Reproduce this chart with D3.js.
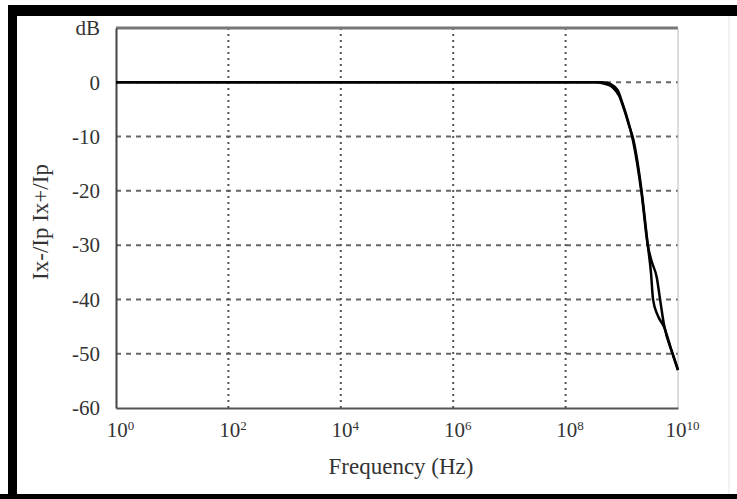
<!DOCTYPE html>
<html>
<head>
<meta charset="utf-8">
<script src="https://cdn.jsdelivr.net/npm/d3@7"></script>
<style>
body { margin: 0; background: #fff; }
svg { display: block; }
</style>
</head>
<body>
<script>
var width = 737, height = 499;
var serif = '"Liberation Serif", "DejaVu Serif", "Times New Roman", serif';

// frequency ticks (exponents of ten) and dB ticks
var xTickExps = [0, 2, 4, 6, 8, 10];
var yTicks = [0, -10, -20, -30, -40, -50, -60];
var yTopLabel = 'dB';

// Ix-/Ip response (Hz, dB)
var freqMinus = [1, 1e8, 3.5e8, 5e8, 7e8, 9e8, 1.1e9, 1.35e9, 1.6e9, 2.25e9, 2.9e9, 3.3e9, 3.6e9, 4.3e9, 5.6e9, 8e9, 1e10];
var dbMinus   = [0, 0, 0, -0.3, -1, -2.5, -5, -8, -10.5, -20, -30, -35, -40, -42.8, -45, -50, -53];

// Ix+/Ip response
var freqPlus = [1, 1e8, 4.5e8, 6.5e8, 8.5e8, 1e9, 1.2e9, 1.6e9, 2.25e9, 2.9e9, 3.4e9, 4.2e9, 4.8e9, 5.6e9, 8e9, 1e10];
var dbPlus   = [0, 0, 0, -0.4, -1.5, -3.5, -6, -11, -20.5, -30, -33, -36, -40, -44.5, -50, -53];

var margin = {left: 116, right: 678, top: 28, bottom: 408};

var svg = d3.select('body').append('svg')
    .attr('width', width)
    .attr('height', height)
    .attr('font-family', serif);

// picture frame
svg.append('rect').attr('x', 8).attr('y', 5).attr('width', width - 8).attr('height', 11).attr('fill', '#000');
svg.append('rect').attr('x', 8).attr('y', 5).attr('width', 9).attr('height', height - 5).attr('fill', '#000');
svg.append('rect').attr('x', 0).attr('y', 494).attr('width', width).attr('height', 5).attr('fill', '#000');
svg.append('line').attr('x1', 729).attr('x2', 729).attr('y1', 16).attr('y2', 494)
    .attr('stroke', '#e6e6e6').attr('stroke-width', 1);

var x = d3.scaleLog()
    .domain([1, 1e10])
    .range([margin.left, margin.right]);
var y = d3.scaleLinear()
    .domain([-60, 10])
    .range([margin.bottom, margin.top]);

// grid
var grid = svg.append('g');
grid.selectAll('line.h')
    .data(yTicks.filter(function(d){ return d > -60; }))
    .enter().append('line')
    .attr('class', 'h')
    .attr('x1', margin.left).attr('x2', margin.right)
    .attr('y1', function(d){ return y(d); })
    .attr('y2', function(d){ return y(d); })
    .attr('stroke', '#666')
    .attr('stroke-width', 2)
    .attr('stroke-dasharray', '5,5');
grid.selectAll('line.v')
    .data(xTickExps.filter(function(d){ return d > 0 && d < 10; }))
    .enter().append('line')
    .attr('class', 'v')
    .attr('x1', function(d){ return x(Math.pow(10, d)); })
    .attr('x2', function(d){ return x(Math.pow(10, d)); })
    .attr('y1', margin.top).attr('y2', margin.bottom)
    .attr('stroke', '#555')
    .attr('stroke-width', 2)
    .attr('stroke-dasharray', '2,4');

// plot box
svg.append('line').attr('x1', margin.left).attr('x2', margin.right).attr('y1', margin.top).attr('y2', margin.top)
    .attr('stroke', '#777').attr('stroke-width', 3);
svg.append('line').attr('x1', margin.right).attr('x2', margin.right).attr('y1', margin.top).attr('y2', margin.bottom)
    .attr('stroke', '#bbb').attr('stroke-width', 1);

// axes
var xAxis = d3.axisBottom(x)
    .tickValues(xTickExps.map(function(d){ return Math.pow(10, d); }))
    .tickSize(0)
    .tickPadding(14)
    .tickFormat('');
var gx = svg.append('g')
    .attr('transform', 'translate(0,' + margin.bottom + ')')
    .call(xAxis);
gx.attr('font-family', serif);
gx.select('.domain').attr('stroke', '#555').attr('stroke-width', 2);
gx.selectAll('.tick text')
    .attr('font-size', '21px')
    .attr('fill', '#333')
    .attr('dx', '4px')
    .each(function(d){
        var t = d3.select(this);
        var e = Math.round(Math.log10(d));
        t.append('tspan').text('10');
        t.append('tspan').attr('dy', '-0.5em').attr('font-size', '13px').text(e);
    });

var yAxis = d3.axisLeft(y)
    .tickValues(yTicks.concat([10]))
    .tickSize(0)
    .tickPadding(16)
    .tickFormat(function(d){ return d == 10 ? yTopLabel : d; });
var gy = svg.append('g')
    .attr('transform', 'translate(' + margin.left + ',0)')
    .call(yAxis);
gy.attr('font-family', serif);
gy.select('.domain').attr('stroke', '#444').attr('stroke-width', 2);
gy.selectAll('.tick text').attr('font-size', '21px').attr('fill', '#333');

// curves
var line = d3.line()
    .x(function(d){ return x(d[0]); })
    .y(function(d){ return y(d[1]); })
    .curve(d3.curveMonotoneX);

var seriesList = [
    d3.zip(freqMinus, dbMinus),
    d3.zip(freqPlus, dbPlus)
];
svg.selectAll('path.curve')
    .data(seriesList)
    .enter().append('path')
    .attr('class', 'curve')
    .attr('d', line)
    .attr('fill', 'none')
    .attr('stroke', '#000')
    .attr('stroke-width', 2.5);

// titles
svg.append('text')
    .attr('x', (margin.left + margin.right) / 2 + 4)
    .attr('y', 474)
    .attr('text-anchor', 'middle')
    .attr('font-family', serif)
    .attr('font-size', '23px')
    .attr('fill', '#333')
    .text('Frequency (Hz)');
svg.append('text')
    .attr('transform', 'translate(48,222) rotate(-90)')
    .attr('text-anchor', 'middle')
    .attr('font-family', serif)
    .attr('font-size', '23px')
    .attr('fill', '#333')
    .text('Ix-/Ip Ix+/Ip');
</script>
</body>
</html>
